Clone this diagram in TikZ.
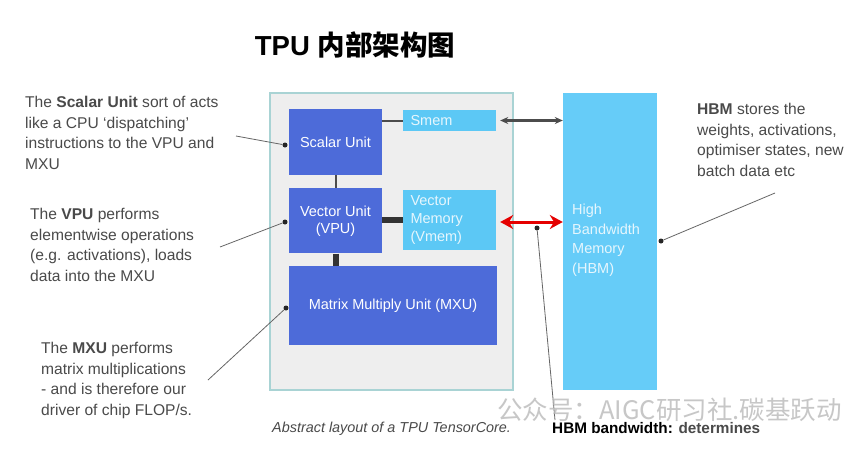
\documentclass[tikz,border=0pt]{standalone}
\usepackage{fontspec}
\setmainfont{Liberation Sans}
\setsansfont{Liberation Sans}
\newfontfamily\cjkfont{Noto Sans CJK SC}
\usetikzlibrary{arrows.meta, positioning}

\definecolor{unitblue}{HTML}{4D6BD9}
\definecolor{membox}{HTML}{5CC8F5}
\definecolor{hbmblue}{HTML}{66CCF8}
\definecolor{coregray}{HTML}{EEEEEE}
\definecolor{coreedge}{HTML}{A9D3D4}
\definecolor{notetext}{HTML}{4A4A4A}
\definecolor{memtext}{HTML}{E6F6FD}

\begin{document}
\begin{tikzpicture}[
    x=1pt, y=-1pt,
    unit/.style={rectangle, fill=unitblue, inner sep=0pt, text=white, font=\fontsize{14.5}{17}\selectfont, align=center},
    mem/.style={rectangle, fill=membox, inner sep=0pt, text=memtext, font=\fontsize{14.5}{18}\selectfont, align=left, text width=#1},
    mem/.default=78pt,
    note/.style={anchor=north west, inner sep=0pt, text=notetext, align=left, font=\fontsize{15.6}{20.5}\selectfont},
    callout/.style={draw=gray!80!black, line width=0.8pt},
    dot/.style={circle, fill=gray!30!black, inner sep=0pt, minimum size=5pt},
    thinlink/.style={draw=gray!60!black, line width=2pt},
    thicklink/.style={draw=black!80, line width=6pt},
    arrow/.style={{Stealth[length=8pt,width=7pt]}-{Stealth[length=8pt,width=7pt]}, draw=gray!60!black, line width=2.2pt},
    redarrow/.style={{Stealth[length=13pt,width=14pt]}-{Stealth[length=13pt,width=14pt]}, draw=red!90!black, line width=3pt}
]
    \useasboundingbox[fill=white] (0,0) rectangle (865,453);

    % title
    \node (title) at (355,45) {\fontsize{27.5}{32}\selectfont\bfseries TPU \cjkfont 内部架构图};

    % tensor core
    \node[draw=coreedge, fill=coregray, line width=1.2pt, inner sep=0pt, minimum width=243pt, minimum height=297pt] (core) at (391.5,241.5) {};
    \node[unit, minimum width=93pt, minimum height=66pt] (scalar) at (335.5,142) {Scalar Unit};
    \node[unit, minimum width=93pt, minimum height=65pt, below=13pt of scalar] (vector) {Vector Unit\\(VPU)};
    \node[unit, minimum width=208pt, minimum height=79pt] (mxu) at (393,305.5) {Matrix Multiply Unit (MXU)};
    \node[mem, minimum width=93pt, minimum height=21pt] (smem) at (449.5,120.5) {Smem};
    \node[mem, minimum width=93pt, minimum height=60pt] (vmem) at (449.5,220) {Vector\\Memory\\(Vmem)};

    \draw[thinlink] (scalar.east |- smem) -- (smem.west);
    \draw[thinlink] (scalar) -- (vector);
    \draw[thicklink] (vector.east |- vmem) -- (vmem.west);
    \draw[thicklink] (vector) -- (vector |- mxu.north);

    % HBM
    \node[rectangle, fill=hbmblue, inner sep=0pt, minimum width=94pt, minimum height=297pt] (hbm) at (610,241.5) {};
    \node[anchor=north west, inner sep=0pt, text=memtext, align=left, font=\fontsize{14.5}{19.5}\selectfont] (hbmlabel) at (572,204) {High\\Bandwidth\\Memory\\(HBM)};

    \draw[arrow] (smem.east) ++(4,0) coordinate (smemr) -- (smemr -| hbm.west);
    \draw[redarrow] (vmem.east) ++(4,2) coordinate (vmemr) -- (vmemr -| hbm.west);

    % notes
    \node[note] (scalarnote) at (25,96) {The \textbf{Scalar Unit} sort of acts\\like a CPU ‘dispatching’\\instructions to the VPU and\\MXU};
    \node[note] (vpunote) at (30,208) {The \textbf{VPU} performs\\elementwise operations\\(e.g. activations), loads\\data into the MXU};
    \node[note] (mxunote) at (41,342) {The \textbf{MXU} performs\\matrix multiplications\\- and is therefore our\\driver of chip FLOP/s.};
    \node[note] (hbmnote) at (697,103) {\textbf{HBM} stores the\\weights, activations,\\optimiser states, new\\batch data etc};
    \node[anchor=north west, inner sep=0pt, font=\fontsize{14.4}{17}\selectfont\itshape, text=notetext] (caption) at (272,422) {Abstract layout of a TPU TensorCore.};
    \node[anchor=north west, inner sep=0pt, font=\fontsize{15.3}{18}\selectfont, text=notetext] (bwnote) at (552,422) {\textbf{\color{black}HBM bandwidth:} \textbf{determines}};

    % callouts
    \node[dot] (scalardot) at (285,145) {};
    \node[dot] (vpudot) at (285,222) {};
    \node[dot] (mxudot) at (286,308) {};
    \node[dot] (hbmdot) at (661,241) {};
    \node[dot] (bwdot) at (537,228) {};
    \coordinate (scalarend) at (236,136);
    \coordinate (vpuend) at (220,247);
    \coordinate (mxuend) at (208,380);
    \coordinate (hbmend) at (775,193);
    \coordinate (bwend) at (555,420);
    \draw[callout] (scalarend) -- (scalardot);
    \draw[callout] (vpuend) -- (vpudot);
    \draw[callout] (mxuend) -- (mxudot);
    \draw[callout] (hbmend) -- (hbmdot);
    \draw[callout] (bwend) -- (bwdot);

    % watermark
    \node[anchor=west, inner sep=0pt, text=gray!55, opacity=0.8, font=\cjkfont\fontsize{25.5}{28}\selectfont] (mark) at (497,410) {公众号：AIGC研习社.碳基跃动};
\end{tikzpicture}
\end{document}
